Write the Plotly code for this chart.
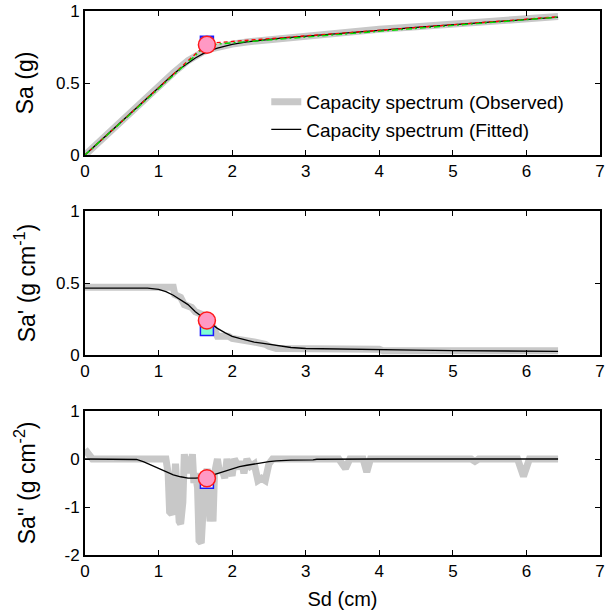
import plotly.graph_objects as go

# ---------------- data ----------------
# Top panel: capacity spectrum Sa vs Sd
sd_obs = [0, 0.25, 0.5, 0.75, 1.0, 1.2, 1.4, 1.5, 1.6, 1.7, 1.8, 2.0, 2.2, 2.5, 3.0, 3.5, 4.0, 4.5, 5.0, 5.5, 6.0, 6.43]
sa_obs = [0, 0.12, 0.24, 0.355, 0.475, 0.57, 0.655, 0.69, 0.715, 0.735, 0.75, 0.77, 0.785, 0.80, 0.83, 0.853, 0.873, 0.89, 0.908, 0.926, 0.945, 0.962]

sd_fit = [0, 0.25, 0.5, 0.75, 1.0, 1.1, 1.2, 1.3, 1.4, 1.5, 1.6, 1.7, 1.8, 1.9, 2.0, 2.2, 2.4, 2.6, 2.8, 3.0, 3.5, 4.0, 4.5, 5.0, 5.5, 6.0, 6.43]
sa_fit = [0, 0.1175, 0.235, 0.3525, 0.47, 0.516, 0.561, 0.603, 0.641, 0.674, 0.702, 0.725, 0.742, 0.756, 0.768, 0.786, 0.799, 0.808, 0.817, 0.826, 0.846, 0.866, 0.886, 0.905, 0.923, 0.941, 0.957]

sd_bil_red = [0, 1.66, 6.43]
sa_bil_red = [0, 0.775, 0.96]
sd_bil_green = [0, 1.66, 6.43]
sa_bil_green = [0, 0.765, 0.957]

# Middle panel: first derivative Sa'
sd_d1_obs = [0, 1.2, 1.22, 1.3, 1.35, 1.45, 1.5, 1.6, 1.65, 1.7, 1.75, 1.8, 1.95, 2.0, 2.2, 2.3, 2.45, 2.5, 2.6, 3.0, 3.5, 4.0, 4.05, 5.0, 6.0, 6.43]
d1_obs = [0.47, 0.47, 0.42, 0.40, 0.35, 0.33, 0.30, 0.28, 0.27, 0.21, 0.19, 0.13, 0.13, 0.115, 0.105, 0.09, 0.075, 0.06, 0.045, 0.045, 0.04, 0.04, 0.03, 0.03, 0.03, 0.03]

sd_d1_fit = [0, 0.5, 0.85, 1.0, 1.1, 1.2, 1.3, 1.4, 1.5, 1.6, 1.7, 1.8, 1.9, 2.0, 2.1, 2.2, 2.3, 2.4, 2.5, 2.6, 2.7, 2.8, 3.0, 3.5, 4.0, 4.5, 5.0, 5.5, 6.0, 6.43]
d1_fit = [0.465, 0.465, 0.465, 0.455, 0.44, 0.415, 0.385, 0.35, 0.30, 0.26, 0.22, 0.185, 0.155, 0.13, 0.115, 0.10, 0.09, 0.083, 0.075, 0.066, 0.058, 0.052, 0.045, 0.04, 0.037, 0.034, 0.031, 0.028, 0.026, 0.025]

# Bottom panel: second derivative Sa''
sd_d2_obs = [0.0, 0.05, 0.1, 0.3, 0.6, 0.9, 1.1, 1.13, 1.15, 1.18, 1.2, 1.23, 1.26, 1.28, 1.3, 1.33, 1.35, 1.38, 1.4, 1.43, 1.46, 1.48,
             1.5, 1.53, 1.55, 1.58, 1.6, 1.62, 1.64, 1.66, 1.68, 1.7, 1.72, 1.74, 1.76, 1.78, 1.8, 1.83, 1.86, 1.9, 1.93, 1.96,
             2.0, 2.03, 2.06, 2.1, 2.13, 2.16, 2.2, 2.25, 2.3, 2.35, 2.4, 2.45, 2.5, 2.55, 2.6, 3.45, 3.54, 3.6, 3.78, 3.83,
             3.88, 5.25, 5.3, 5.35, 5.88, 5.96, 6.04, 6.43]
d2_obs = [0.2, 0.1, 0.0, 0.0, 0.0, 0.0, 0.0, -0.3, -1.1, -1.15, -1.0, -0.1, -1.1, -1.3, -1.35, -0.9, 0.1, -0.3, 0.05, -0.2, 0.1, -0.5,
          -0.3, -0.6, -1.7, -1.75, -1.2, -0.4, -0.5, -0.2, -1.2, -1.3, -0.9, -1.3, -0.3, -0.2, 0.0, -0.3, -0.2, -0.4, 0.0, -0.2,
          -0.35, 0.0, -0.1, -0.2, -0.05, -0.3, 0.0, -0.15, -0.1, -0.45, -0.4, -0.45, -0.1, 0.0, 0.0, 0.0, -0.2, 0.0, 0.0, -0.27,
          0.0, 0.0, -0.05, 0.0, 0.0, -0.36, 0.0, 0.0]

sd_d2_fit = [0, 0.6, 0.7, 0.8, 0.9, 1.0, 1.1, 1.2, 1.3, 1.4, 1.5, 1.6, 1.7, 1.8, 1.9, 2.0, 2.1, 2.2, 2.3, 2.4, 2.5, 2.6, 2.8, 3.1, 3.15, 4.0, 5.0, 6.0, 6.43]
d2_fit = [0, 0, -0.01, -0.06, -0.13, -0.2, -0.27, -0.33, -0.37, -0.4, -0.4, -0.39, -0.35, -0.3, -0.25, -0.2, -0.16, -0.13, -0.1, -0.07, -0.055, -0.04, -0.025, -0.02, -0.005, 0, 0, 0, 0]

# Performance points (square / circle) per panel
pt_sd = 1.657
sq_vals = [0.78, 0.18, -0.475]
ci_vals = [0.766, 0.24, -0.40]
sq_fills = ["#3355ff", "#7fffd4", "#ffffff"]

# tick labels
x_ticks = [0, 1, 2, 3, 4, 5, 6, 7]
y_ticks_top = [0, 0.5, 1]
y_ticks_bot = [-2, -1, 0, 1]
y_ticktext_bot = ["-2", "-1", "0", "1"]

GRAY = "#c8c8c8"
FONT = "Liberation Sans, Arial, sans-serif"

fig = go.Figure()

# --- top panel
fig.add_trace(go.Scatter(x=sd_obs, y=sa_obs, mode="lines", line=dict(color=GRAY, width=7),
                         name="Capacity spectrum (Observed)", xaxis="x", yaxis="y"))
fig.add_trace(go.Scatter(x=sd_fit, y=sa_fit, mode="lines", line=dict(color="black", width=1.3),
                         name="Capacity spectrum (Fitted)", xaxis="x", yaxis="y"))
fig.add_trace(go.Scatter(x=sd_bil_red, y=sa_bil_red, mode="lines", line=dict(color="#ff0000", width=1.4, dash="4px,3px"),
                         showlegend=False, xaxis="x", yaxis="y"))
fig.add_trace(go.Scatter(x=sd_bil_green, y=sa_bil_green, mode="lines", line=dict(color="#00dd00", width=1.4, dash="6px,3px,2px,3px"),
                         showlegend=False, xaxis="x", yaxis="y"))

# --- middle panel
fig.add_trace(go.Scatter(x=sd_d1_obs, y=d1_obs, mode="lines", line=dict(color=GRAY, width=7),
                         showlegend=False, xaxis="x2", yaxis="y2"))
fig.add_trace(go.Scatter(x=sd_d1_fit, y=d1_fit, mode="lines", line=dict(color="black", width=1.3),
                         showlegend=False, xaxis="x2", yaxis="y2"))

# --- bottom panel
fig.add_trace(go.Scatter(x=sd_d2_obs, y=d2_obs, mode="lines", line=dict(color=GRAY, width=7),
                         showlegend=False, xaxis="x3", yaxis="y3"))
fig.add_trace(go.Scatter(x=sd_d2_fit, y=d2_fit, mode="lines", line=dict(color="black", width=1.3),
                         showlegend=False, xaxis="x3", yaxis="y3"))

axes_pairs = [("x", "y"), ("x2", "y2"), ("x3", "y3")]
for i, (xa, ya) in enumerate(axes_pairs):
    fig.add_trace(go.Scatter(x=[pt_sd], y=[sq_vals[i]], mode="markers",
                             marker=dict(symbol="square", size=13, color=sq_fills[i], line=dict(color="#1a1aff", width=1.5)),
                             showlegend=False, xaxis=xa, yaxis=ya))
    fig.add_trace(go.Scatter(x=[pt_sd], y=[ci_vals[i]], mode="markers",
                             marker=dict(symbol="circle", size=17, color="#ff99c4", line=dict(color="#ff1a1a", width=1.5)),
                             showlegend=False, xaxis=xa, yaxis=ya))

common_x = dict(range=[0, 7], tickvals=x_ticks, ticks="inside", ticklen=5, tickwidth=1.2, tickcolor="black",
                showline=True, linecolor="black", linewidth=2, mirror="ticks", showgrid=False, zeroline=False,
                ticklabeloverflow="allow",
                tickfont=dict(family=FONT, size=17, color="black"))
common_y = dict(ticks="inside", ticklen=5, tickwidth=1.2, tickcolor="black",
                showline=True, linecolor="black", linewidth=2, mirror="ticks", showgrid=False, zeroline=False,
                tickfont=dict(family=FONT, size=17, color="black"))

H = 544.0
ph = 144 / H
gap = 56 / H
dom3 = [0, ph]
dom2 = [ph + gap, 2 * ph + gap]
dom1 = [2 * ph + 2 * gap, 1.0]

fig.update_layout(
    width=606, height=613,
    margin=dict(l=85, r=1, t=11, b=58),
    paper_bgcolor="white", plot_bgcolor="white",
    font=dict(family=FONT, color="black"),
    xaxis=dict(**common_x, domain=[0, 1], anchor="y"),
    yaxis=dict(**common_y, domain=dom1, range=[0, 1], tickvals=y_ticks_top, anchor="x"),
    xaxis2=dict(**common_x, domain=[0, 1], anchor="y2"),
    yaxis2=dict(**common_y, domain=dom2, range=[0, 1], tickvals=y_ticks_top, anchor="x2"),
    xaxis3=dict(**common_x, domain=[0, 1], anchor="y3",
                title=dict(text="Sd (cm)", font=dict(family=FONT, size=20, color="black"), standoff=12)),
    yaxis3=dict(**common_y, domain=dom3, range=[-2, 1], tickvals=y_ticks_bot, ticktext=y_ticktext_bot, anchor="x3"),
    legend=dict(x=0.352, y=0.868, xanchor="left", yanchor="top", bgcolor="rgba(0,0,0,0)",
                font=dict(family=FONT, size=19, color="black"), tracegroupgap=0, itemwidth=30),
    showlegend=True,
)

# y axis titles (rotated), centred on each panel
titles = ["Sa (g)", "Sa' (g cm<sup>-1</sup>)", "Sa'' (g cm<sup>-2</sup>)"]
doms = [dom1, dom2, dom3]
for t, d in zip(titles, doms):
    fig.add_annotation(text=t, xref="paper", yref="paper", x=-0.116, y=(d[0] + d[1]) / 2,
                       xanchor="center", yanchor="middle", textangle=-90, showarrow=False,
                       font=dict(family=FONT, size=23, color="black"))

fig.write_html("out.html")
